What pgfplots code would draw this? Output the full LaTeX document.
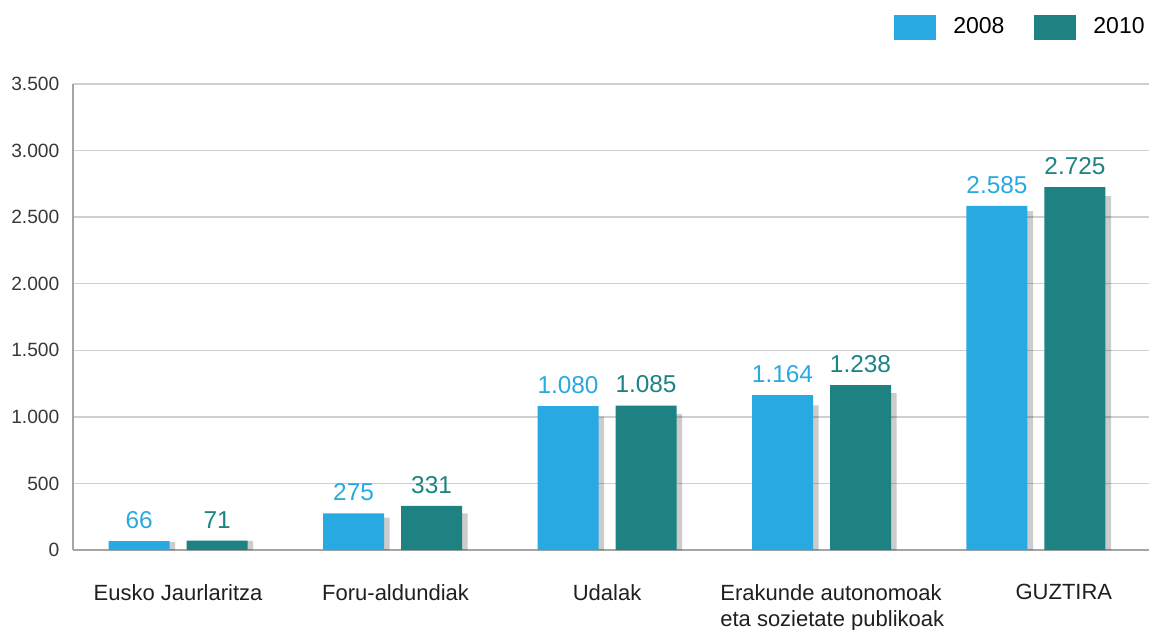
\documentclass[border=0pt]{standalone}
\usepackage{fontspec}
\setmainfont{Liberation Sans}
\usepackage{pgfplots}
\pgfplotsset{compat=1.18}
\definecolor{cblue}{HTML}{29A9E1}
\definecolor{cteal}{HTML}{1E8282}
\definecolor{cgrid}{HTML}{CFCFCF}
\definecolor{caxis}{HTML}{A5A5A5}
\newcommand{\ticklab}{\fontsize{9.6}{11}\selectfont}
\newcommand{\catlab}{\fontsize{11}{13}\selectfont}
\newcommand{\vallab}{\fontsize{12.2}{14}\selectfont}

\begin{document}
\begin{tikzpicture}
\path (0,0) rectangle (574.5pt,314.5pt);
\begin{axis}[
  at={(36.5pt,39.5pt)}, anchor=south west,
  scale only axis, width=538pt, height=233pt,
  xmin=-0.49, xmax=4.527, ymin=0, ymax=3500,
  axis x line*=bottom, axis y line*=left,
  axis line style={caxis, line width=0.7pt, -},
  major tick length=0pt,
  ytick={0,500,...,3500},
  ymajorgrids, grid style={cgrid, line width=0.7pt},
  xtick={0,1.014,2,3.05,4.13},
  xticklabels={Eusko Jaurlaritza, Foru-aldundiak, Udalak,
    {Erakunde autonomoak\\eta sozietate publikoak}, GUZTIRA},
  xticklabel style={font=\catlab, align=left, anchor=north, yshift=-13.5pt, text=black!88},
  yticklabel style={font=\ticklab, text=black!78, xshift=-3.3pt},
  /pgf/number format/1000 sep={.},
  /pgf/number format/assume math mode=true,
  legend columns=2,
  legend style={at={(1,1)}, anchor=south east, yshift=21.5pt,
    draw=none, fill=none, inner sep=0pt, font=\fontsize{11.5}{13}\selectfont,
    /tikz/every odd column/.append style={column sep=6.5pt},
    /tikz/every even column/.append style={column sep=13pt}},
  legend image code/.code={\fill[#1] (0pt,-6.25pt) rectangle (21pt,6.25pt);},
]
% grey shadows, a little lower and shifted right
\addplot[ybar, bar width=30.5pt, bar shift=-16.7pt, fill=black, fill opacity=0.2, draw=none, forget plot]
  coordinates {(0,60) (1,243) (2,1001) (3,1086) (4,2545)};
\addplot[ybar, bar width=30.5pt, bar shift=22.3pt, fill=black, fill opacity=0.2, draw=none, forget plot]
  coordinates {(0,68) (1,276) (2,1023) (3,1179) (4,2658)};
% main bars
\addplot[ybar, bar width=30.5pt, bar shift=-19.5pt, fill=cblue, draw=none,
  nodes near coords,
  every node near coord/.append style={text=cblue, font=\vallab, anchor=south, inner sep=0pt, xshift=-19.5pt, yshift=6pt}]
  coordinates {(0,66) (1,275) (2,1080) (3,1164) (4,2585)};
\addlegendentry{2008}
\addplot[ybar, bar width=30.5pt, bar shift=19.5pt, fill=cteal, draw=none,
  nodes near coords,
  every node near coord/.append style={text=cteal, font=\vallab, anchor=south, inner sep=0pt, xshift=19.5pt, yshift=6pt}]
  coordinates {(0,71) (1,331) (2,1085) (3,1238) (4,2725)};
\addlegendentry{2010}
\end{axis}
\pgfresetboundingbox
\path (0,0) rectangle (574.5pt,314.5pt);
\end{tikzpicture}
\end{document}
